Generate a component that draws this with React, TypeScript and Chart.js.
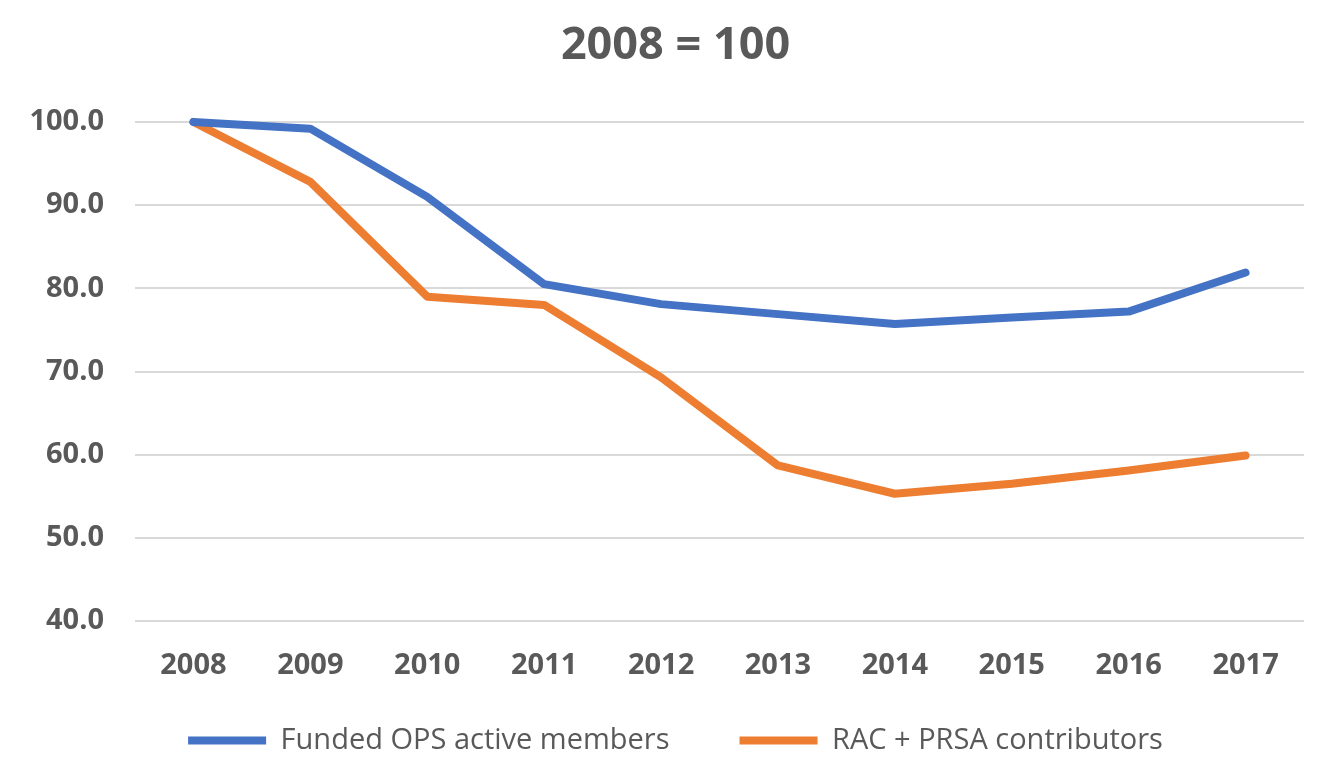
import React, { useEffect, useRef } from "react";
import { Chart, registerables } from "chart.js";

Chart.register(...registerables);

const categories = ["2008", "2009", "2010", "2011", "2012", "2013", "2014", "2015", "2016", "2017"];
const fundedOps = [100, 99.2, 91.0, 80.5, 78.1, 76.9, 75.7, 76.5, 77.2, 81.9];
const racPrsa = [100, 92.8, 79.0, 78.0, 69.3, 58.7, 55.3, 56.5, 58.1, 59.9];
const seriesNames = ["Funded OPS active members", "RAC + PRSA contributors"];
const titleText = "2008 = 100";

const unclipLabels = {
  id: "unclipLabels",
  afterLayout(c: any) {
    const x = c.scales.x;
    const y = c.scales.y;
    if (x) x.bottom = x.top + 80;
    if (y) y.left = 0;
  },
};

export default function App() {
  const ref = useRef<HTMLCanvasElement | null>(null);

  useEffect(() => {
    document.body.style.margin = "0";
    const canvas = ref.current;
    if (!canvas) return;
    const chart = new Chart(canvas, {
      type: "line",
      data: {
        labels: categories,
        datasets: [
          {
            label: seriesNames[0],
            data: fundedOps,
            borderColor: "#4472C4",
            backgroundColor: "#4472C4",
            borderWidth: 8,
            pointRadius: 0,
            pointStyle: "line",
            borderCapStyle: "round",
            borderJoinStyle: "round",
            tension: 0,
            clip: false as any,
          },
          {
            label: seriesNames[1],
            data: racPrsa,
            borderColor: "#ED7D31",
            backgroundColor: "#ED7D31",
            borderWidth: 8,
            pointRadius: 0,
            pointStyle: "line",
            borderCapStyle: "round",
            borderJoinStyle: "round",
            tension: 0,
            clip: false as any,
          },
        ],
      },
      options: {
        responsive: false,
        animation: false,
        layout: { padding: { left: 47, right: 17, top: 0, bottom: 16 } },
        plugins: {
          title: {
            display: true,
            text: titleText,
            color: "#595959",
            font: { family: "Open Sans", size: 45, weight: "bold" },
            padding: { top: 19, bottom: 49 },
          },
          legend: {
            position: "bottom",
            labels: {
              usePointStyle: true,
              pointStyleWidth: 78,
              padding: 70,
              color: "#595959",
              font: { family: "Open Sans", size: 29 },
            },
          },
          tooltip: { enabled: false },
        },
        scales: {
          x: {
            offset: true,
            grid: { display: false, drawTicks: false },
            border: { display: false },
            ticks: {
              color: "#595959",
              padding: 27,
              font: { family: "Open Sans", size: 29, weight: "bold" },
            },
            afterFit: (scale: any) => {
              scale.height = 35;
            },
          },
          y: {
            min: 40,
            max: 100,
            grid: { color: "#d9d9d9", lineWidth: 2, drawTicks: false },
            border: { display: false },
            ticks: {
              stepSize: 10,
              color: "#595959",
              padding: 31,
              font: { family: "Open Sans", size: 29, weight: "bold" },
              callback: (v: any) => Number(v).toFixed(1),
            },
            afterFit: (scale: any) => {
              scale.width = 88;
            },
          },
        },
      },
      plugins: [unclipLabels],
    });
    return () => chart.destroy();
  }, []);

  return (
    <div style={{ width: 1321, height: 781, background: "#fff" }}>
      <canvas ref={ref} width={1321} height={781} style={{ display: "block" }} />
    </div>
  );
}
